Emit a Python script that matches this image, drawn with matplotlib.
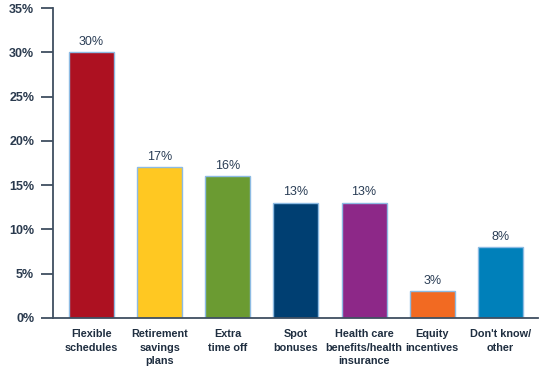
import matplotlib
matplotlib.use('Agg')
import matplotlib.pyplot as plt

categories = ['Flexible\nschedules', 'Retirement\nsavings\nplans', 'Extra\ntime off',
              'Spot\nbonuses', 'Health care\nbenefits/health\ninsurance',
              'Equity\nincentives', "Don't know/\nother"]
values = [30, 17, 16, 13, 13, 3, 8]
colors = ['#AD1121', '#FFC822', '#6B9B32', '#003F72', '#8D2888', '#F26A22', '#0080BA']
yticks = [0, 5, 10, 15, 20, 25, 30, 35]

plt.rcParams['font.family'] = ['Liberation Sans', 'DejaVu Sans']

fig = plt.figure(figsize=(5.4, 3.68), dpi=100)
ax = fig.add_axes([0.098, 0.136, 0.898, 0.842])

x = range(len(values))
bars = ax.bar(x, values, width=0.66, color=colors, edgecolor='#8DBBE3', linewidth=1.0)

for xi, v in zip(x, values):
    ax.text(xi, v + 0.5, f'{v}%', ha='center', va='bottom', fontsize=9, color='#2A3D55')

ax.set_xlim(-0.565, 6.55)
ax.set_ylim(0, 35)
ax.set_yticks(yticks)
ax.set_yticklabels([f'{t}%' for t in yticks], fontsize=9, fontweight='bold', color='#2A3A4E')
ax.set_xticks(list(x))
ax.set_xticklabels(categories, fontsize=7.8, fontweight='bold', color='#1F2E40', linespacing=1.45)

ax.tick_params(axis='y', length=8.5, width=1.3, color='#3F4E60', pad=5)
ax.tick_params(axis='x', length=0, pad=8)

for s in ['top', 'right']:
    ax.spines[s].set_visible(False)
for s in ['left', 'bottom']:
    ax.spines[s].set_color('#3F4E60')
    ax.spines[s].set_linewidth(1.3)

fig.savefig('out.png', dpi=100)
